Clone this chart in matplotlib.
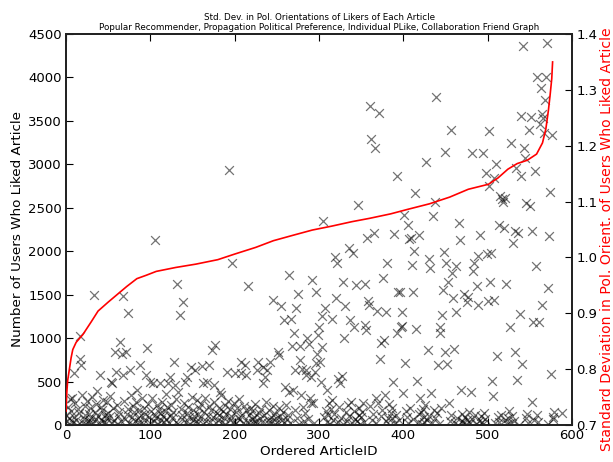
import matplotlib
matplotlib.use("Agg")
import matplotlib.pyplot as plt
import numpy as np

N_ARTICLES = 580

# sparse, readable points: (ordered article id, number of likers)
sparse_ids = [
    542, 570, 439, 559, 569, 563, 568, 540, 551, 564, 566, 457, 501, 549, 562, 567, 576, 528, 543, 450,
    482, 495, 427, 544, 510, 534, 498, 539, 556, 508, 502, 414, 574, 515, 517, 518, 521, 437, 546, 550,
    435, 193, 360, 371, 362, 366, 393, 346, 401, 305,
    105, 197, 33, 68, 132, 139, 135, 74, 16, 64, 58, 66, 71, 96, 177, 173, 17, 18, 9, 40,
    88, 76, 59, 67, 128, 148, 153, 161, 169, 191, 200, 95, 99, 103, 53, 55, 37, 84, 111, 123,
    121, 129, 133, 141, 143, 163, 167, 175, 183, 7,
    357, 365, 389, 319, 321, 336, 340, 381, 216, 265, 292, 297, 328, 344, 354, 376, 245, 255, 275, 273,
    320, 331, 307, 304, 315, 358, 359, 369, 380, 394, 399, 258, 267, 270, 300, 299, 337, 342, 355, 356,
    330, 398, 392, 373, 377, 268, 278, 286, 288, 303, 251, 253, 298, 301, 277, 372, 208, 212, 207, 214,
    228, 234, 227, 238, 242, 236, 233, 272, 280, 284, 290, 285, 296, 295, 302, 309, 323, 327, 325, 388,
    402, 260, 264, 269, 279, 289, 293, 312, 316, 338, 352, 367, 370, 378, 400,
    466, 513, 519, 532, 536, 552, 573, 406, 407, 409, 418, 467, 491, 530, 413, 448, 410, 431, 432, 451,
    462, 488, 499, 504, 484, 483, 458, 453, 447, 557, 487, 503, 522, 396, 411, 472, 477, 475, 459, 463,
    489, 500, 507, 571, 565, 446, 538, 397, 415, 443, 444, 527, 554, 561, 429, 449, 460, 511, 533, 541,
    441, 452, 575, 416, 505, 535, 468, 480, 506, 433, 420, 553, 454, 588,
]
sparse_likers = [
    4360, 4400, 3780, 4000, 4000, 3880, 3740, 3560, 3540, 3580, 3530, 3395, 3385, 3395, 3460, 3360, 3340, 3250, 3190, 3145,
    3125, 3125, 3030, 3070, 3005, 2960, 2900, 2870, 2925, 2840, 2745, 2675, 2685, 2640, 2600, 2570, 2610, 2565, 2550, 2520,
    2410, 2930, 3675, 3590, 3290, 3185, 2870, 2530, 2415, 2350,
    2130, 1860, 1495, 1490, 1625, 1410, 1265, 1285, 1025, 950, 845, 815, 845, 890, 915, 865, 755, 690, 595, 575,
    690, 635, 615, 575, 730, 670, 635, 680, 690, 615, 595, 575, 500, 480, 500, 485, 390, 405, 480, 555,
    480, 460, 385, 500, 555, 480, 500, 460, 385, 305,
    2155, 2205, 2200, 1935, 1860, 2035, 1985, 1860, 1600, 1725, 1670, 1535, 1640, 1610, 1625, 1690, 1440, 1370, 1510, 1350,
    1460, 1370, 1350, 1255, 1215, 1430, 1380, 1315, 1295, 1535, 1305, 1210, 1215, 1055, 1125, 1035, 1210, 1130, 1150, 1095,
    1000, 1140, 1055, 945, 980, 910, 910, 1005, 930, 900, 845, 805, 815, 730, 750, 765, 730, 690, 595, 575,
    730, 670, 635, 635, 730, 555, 480, 635, 650, 635, 555, 575, 710, 615, 500, 405, 535, 565, 480, 500,
    710, 440, 385, 405, 345, 305, 255, 255, 290, 270, 250, 305, 250, 345, 365,
    2330, 2300, 2265, 2235, 2205, 2235, 2180, 2300, 2135, 2150, 2185, 2130, 2185, 2090, 2005, 1995, 1840, 1905, 1810, 1860,
    1830, 1945, 1970, 1985, 1860, 1775, 1745, 1650, 1555, 1830, 1600, 1640, 1625, 1535, 1535, 1510, 1470, 1420, 1460, 1295,
    1380, 1430, 1440, 1575, 1380, 1265, 1275, 1130, 1100, 1130, 1060, 1125, 1180, 1180, 865, 845, 870, 795, 845, 700,
    690, 700, 585, 505, 505, 520, 405, 385, 335, 365, 305, 260, 250, 140,
]

# dense low band, filled into the remaining article ids in order
low_likers = [
    120, 45, 210, 15, 80, 300, 160, 30, 95, 250, 60, 5, 180, 140, 340, 25, 70, 220, 110, 10,
    275, 50, 130, 190, 35, 85, 320, 20, 150, 65, 240, 100, 8, 205, 55, 170, 290, 40, 115, 75,
    18, 260, 135, 90, 330, 28, 195, 60, 12, 230, 105, 155, 42, 280, 70, 125, 185, 22, 350, 95,
    3, 215, 145, 50, 265, 80, 175, 35, 110, 305, 15, 200, 60, 130, 245, 90, 25, 165, 310, 45,
    120, 75, 225, 10, 185, 140, 55, 270, 100, 30, 160, 355, 65, 205, 20, 115, 235, 85, 150, 40,
    295, 5, 180, 120, 70, 255, 35, 140, 210, 95, 15, 325, 60, 170, 105, 45, 285, 130, 25, 190,
    80, 240, 12, 155, 315, 50, 100, 220, 38, 175, 90, 265, 20, 135, 60, 200, 110, 345, 30, 160,
    75, 230, 8, 125, 280, 55, 185, 100, 40, 250, 145, 18, 195, 85, 300, 65, 120, 28, 215, 170,
    40, 120, 15, 200, 70, 160, 25, 95, 240, 50, 10, 140, 80, 185, 30, 110, 260, 60, 20, 170,
    90, 45, 215, 5, 130, 75, 35, 190, 100, 55, 150, 18, 225, 65, 115, 28, 175, 85, 12, 205,
    48, 135, 70, 250, 22, 95, 160, 38, 110, 8, 180, 60, 125, 30, 210, 80, 15, 145, 50, 235,
    100, 25, 165, 70, 42, 195, 120, 10, 90, 155, 35, 220, 62, 130, 20, 105, 175, 45, 85, 245,
    5, 140, 75, 190, 28, 115, 55, 160, 95, 18, 200, 68, 32, 125, 150, 12, 180, 88, 40, 230,
    58, 105, 22, 170, 78, 135, 8, 195, 48, 110,
    20, 80, 5, 45, 130, 30, 95, 10, 60, 150, 25, 70, 115, 15, 50, 100, 35, 8, 140, 65,
    18, 90, 40, 120, 55, 12, 75, 160, 28, 105, 45, 3, 85, 130, 22, 60, 110, 38, 15, 95,
    70, 145, 30, 50, 10, 125, 80, 25, 100, 42, 5, 65, 135, 18, 90, 55, 115, 35, 75, 8,
    150, 48, 20, 85, 62, 105, 28, 12, 120, 40, 70, 15, 95, 55, 30, 140, 10, 80, 45, 60,
]

# sorted standard deviation curve (ordered article id, std. dev.)
std_ids = [0, 1, 2, 4, 6, 8, 12, 20, 30, 38, 50, 61, 72, 84, 95, 107, 130, 154, 180, 200,
           225, 246, 270, 292, 315, 339, 360, 385, 405, 431, 455, 477, 501, 512, 524, 535,
           547, 558, 565, 569, 572, 574, 576, 577]
std_vals = [0.725, 0.76, 0.78, 0.80, 0.82, 0.835, 0.848, 0.862, 0.885, 0.904, 0.92, 0.934, 0.948,
            0.962, 0.968, 0.975, 0.982, 0.988, 0.996, 1.006, 1.018, 1.030, 1.040, 1.049, 1.056,
            1.064, 1.070, 1.078, 1.086, 1.096, 1.108, 1.122, 1.131, 1.142, 1.158, 1.168, 1.174,
            1.185, 1.205, 1.230, 1.263, 1.290, 1.320, 1.350]

left_ticks = [0, 500, 1000, 1500, 2000, 2500, 3000, 3500, 4000, 4500]
right_ticks = [0.7, 0.8, 0.9, 1.0, 1.1, 1.2, 1.3, 1.4]
x_ticks = [0, 100, 200, 300, 400, 500, 600]

# assemble
n_sparse = min(len(sparse_ids), len(sparse_likers))
used = set(sparse_ids[:n_sparse])
free_ids = [i for i in range(N_ARTICLES) if i not in used]
low_pairs = list(zip(free_ids, low_likers))
all_ids = list(sparse_ids[:n_sparse]) + [p[0] for p in low_pairs]
all_likers = list(sparse_likers[:n_sparse]) + [p[1] for p in low_pairs]

fig = plt.figure(figsize=(6.13, 4.62), dpi=100)
ax = fig.add_axes([0.1077, 0.0801, 0.8254, 0.8463])
ax.scatter(all_ids, all_likers, marker='x', s=40, c='black', alpha=0.55, linewidths=0.9, zorder=2)
ax.set_xlim(0, 600)
ax.set_ylim(0, 4500)
ax.set_xticks(x_ticks)
ax.set_yticks(left_ticks)
ax.tick_params(direction='in', length=5, labelsize=9.5, top=True, right=False, pad=3)
ax.set_xlabel('Ordered ArticleID', fontsize=9.7, labelpad=2)
ax.set_ylabel('Number of Users Who Liked Article', fontsize=9.7, labelpad=3)
for s in ax.spines.values():
    s.set_linewidth(1.3)
    s.set_color('#222222')

ax2 = ax.twinx()
ax2.plot(std_ids, std_vals, color='red', lw=1.2, zorder=3)
ax2.set_ylim(0.7, 1.4)
ax2.set_yticks(right_ticks)
ax2.set_yticklabels(['%.1f' % v for v in right_ticks])
ax2.tick_params(direction='in', length=5, labelsize=9.5, pad=3)
ax2.set_ylabel('Standard Deviation in Pol. Orient. of Users Who Liked Article',
               fontsize=10.1, color='red', labelpad=2)
ax2.yaxis.label.set_y(0.475)
for s in ax2.spines.values():
    s.set_linewidth(1.3)
    s.set_color('#222222')

ax.set_title('Std. Dev. in Pol. Orientations of Likers of Each Article\n'
             'Popular Recommender, Propagation Political Preference, Individual PLike, Collaboration Friend Graph',
             fontsize=6.3, pad=3, linespacing=1.1)

fig.savefig('out.png', dpi=100)
